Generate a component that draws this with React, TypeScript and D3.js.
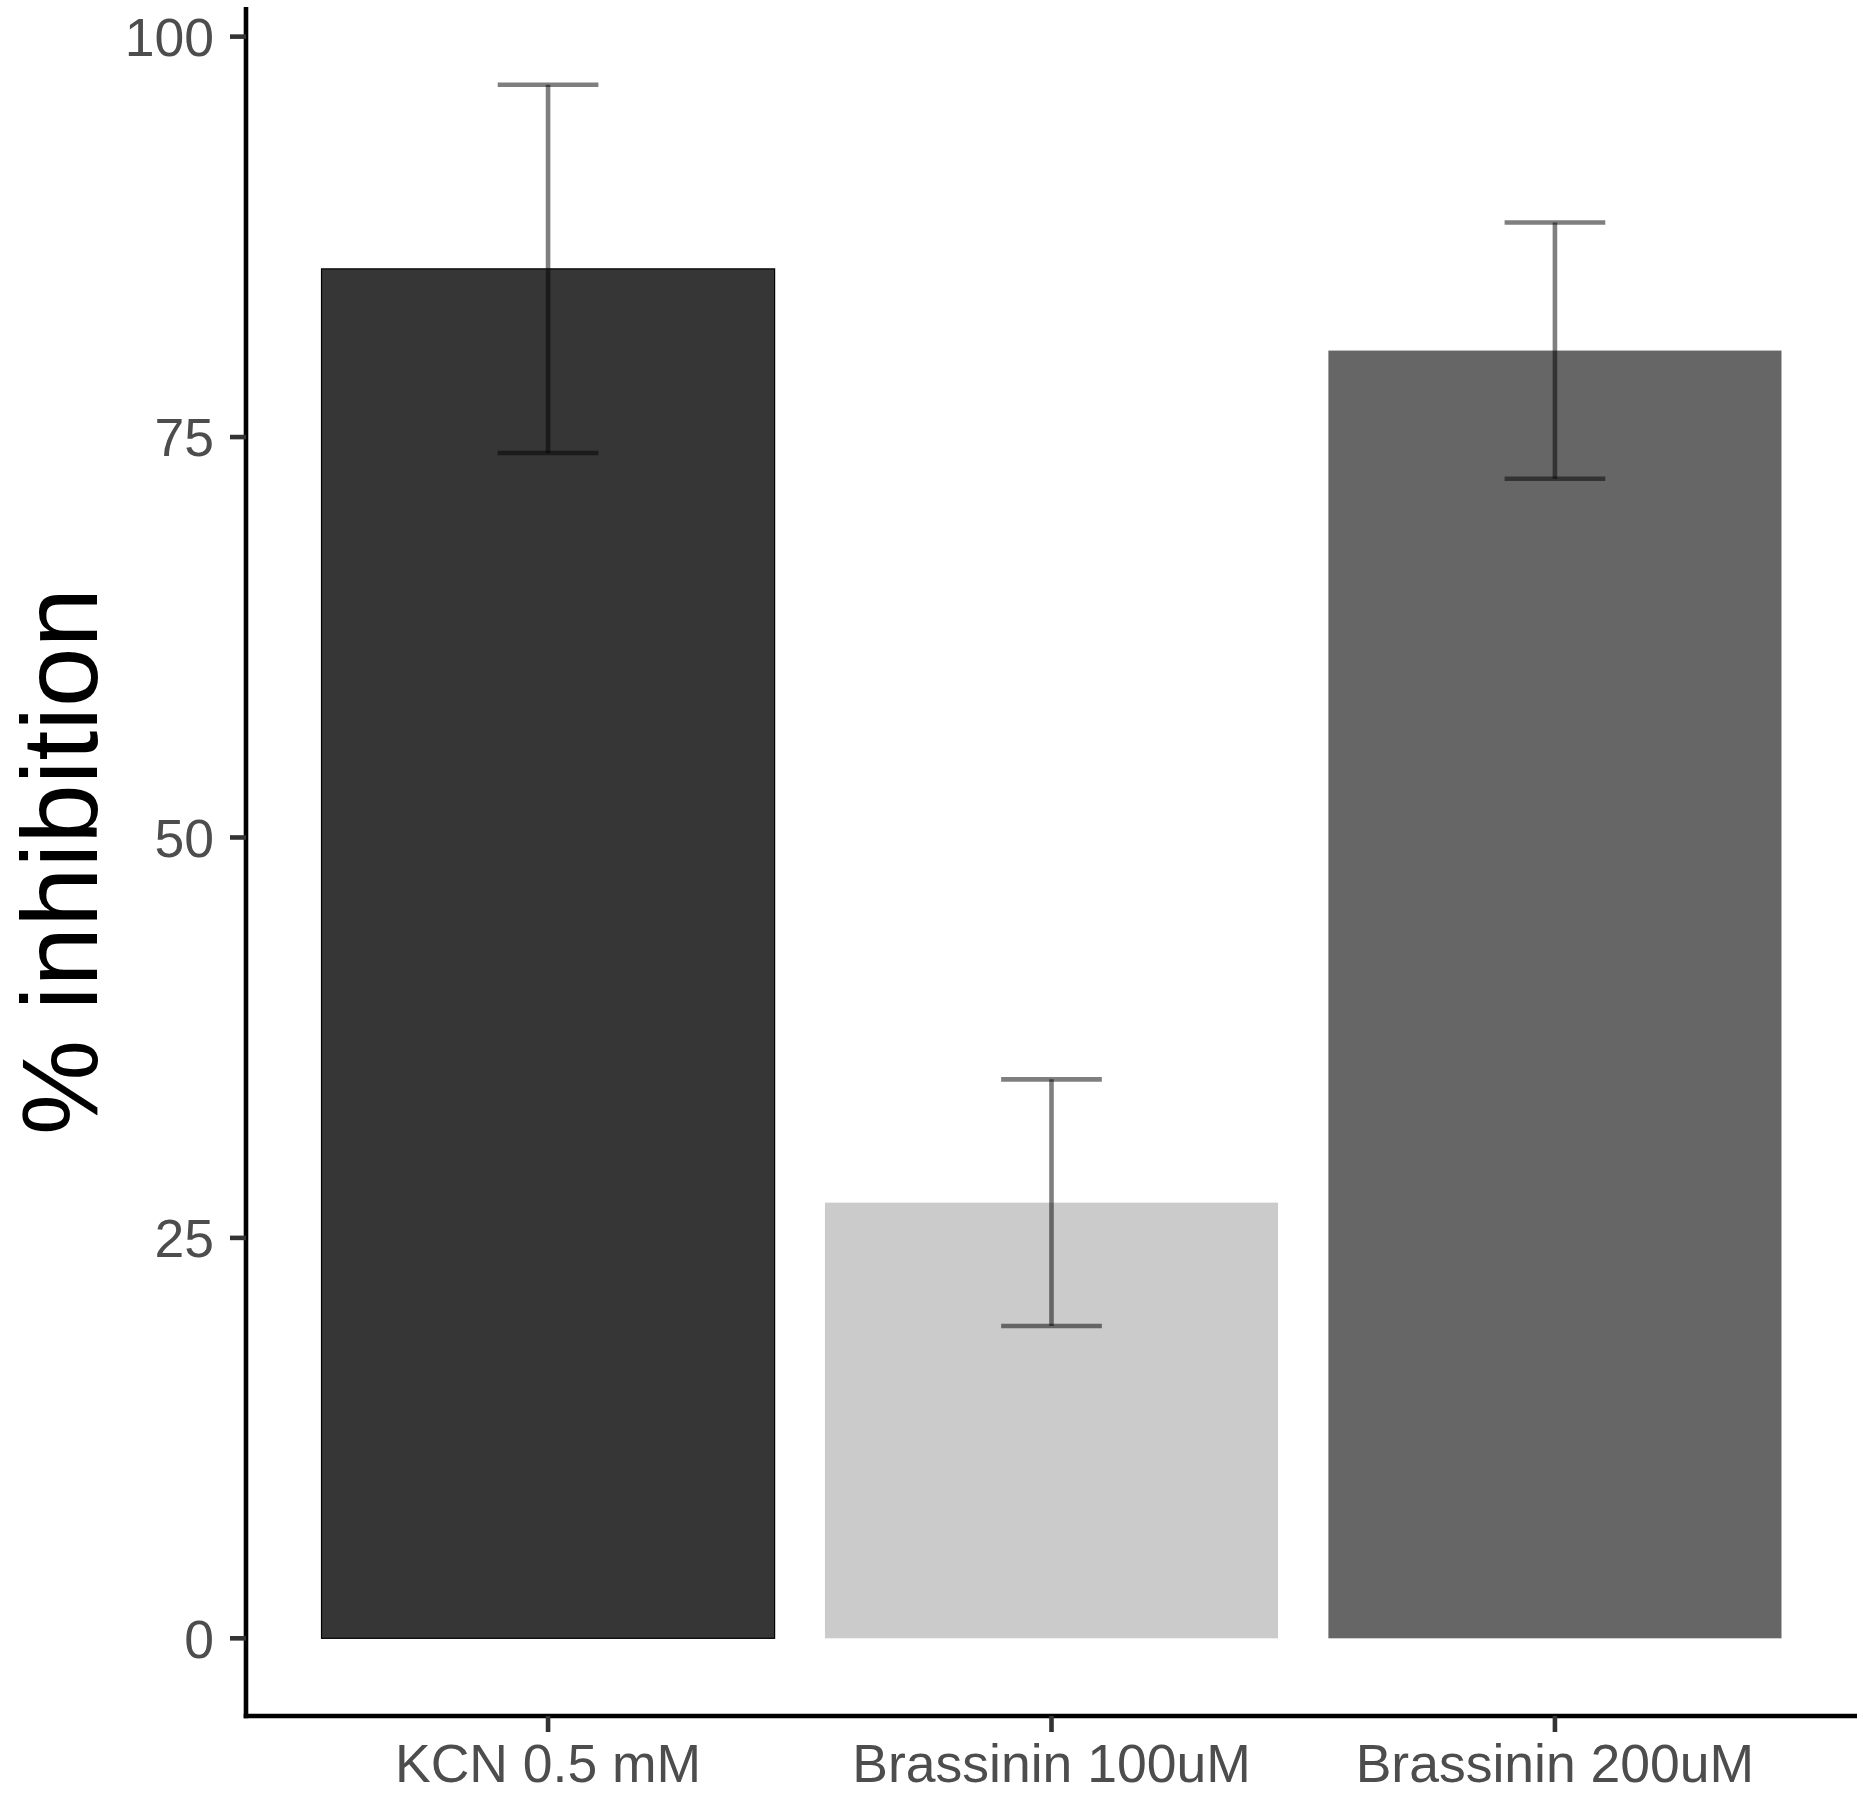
import React from 'react';
import * as d3 from 'd3';

const categories = ['KCN 0.5 mM', 'Brassinin 100uM', 'Brassinin 200uM'];
const means = [85.5, 27.2, 80.4];
const errors = [11.5, 7.7, 8.0];
const fills = ['#363636', '#cbcbcb', '#666666'];
const yTicks = [0, 25, 50, 75, 100];

const W = 1864;
const H = 1794;
const panel = { left: 246, right: 1857, top: 7, bottom: 1716 };

const App: React.FC = () => {
  // ggplot style discrete axis: positions 1..n with 0.6 expansion each side
  const x = d3.scaleLinear()
    .domain([0.4, categories.length + 0.6])
    .range([panel.left, panel.right]);

  // 5% expansion around [0, max(mean + error)]
  const yMax = d3.max(means, (m, i) => m + errors[i]) as number;
  const y = d3.scaleLinear()
    .domain([-0.05 * yMax, yMax * 1.05])
    .range([panel.bottom, panel.top]);

  const barHalf = 0.45;
  const capHalf = 0.1;
  const font = '"Liberation Sans", Arial, Helvetica, sans-serif';

  return (
    <svg
      width={W}
      height={H}
      style={{ position: 'absolute', left: 0, top: 0, background: '#fff' }}
    >
      {/* bars */}
      {categories.map((c, i) => (
        <rect
          key={c}
          x={x(i + 1 - barHalf)}
          y={y(means[i])}
          width={x(i + 1 + barHalf) - x(i + 1 - barHalf)}
          height={y(0) - y(means[i])}
          fill={fills[i]}
          stroke={i === 0 ? '#000' : 'none'}
          strokeWidth={1.2}
        />
      ))}

      {/* error bars */}
      {categories.map((c, i) => {
        const cx = x(i + 1);
        const top = y(means[i] + errors[i]);
        const bot = y(means[i] - errors[i]);
        return (
          <g key={`err-${c}`} stroke="#000" strokeOpacity={0.5} strokeWidth={4.6}>
            <line x1={x(i + 1 - capHalf)} x2={x(i + 1 + capHalf)} y1={top} y2={top} />
            <line x1={x(i + 1 - capHalf)} x2={x(i + 1 + capHalf)} y1={bot} y2={bot} />
            <line x1={cx} x2={cx} y1={top} y2={bot} />
          </g>
        );
      })}

      {/* y axis */}
      <line x1={panel.left} x2={panel.left} y1={panel.top} y2={panel.bottom + 2.3} stroke="#000" strokeWidth={4.6} />
      {yTicks.map(t => (
        <g key={`yt-${t}`}>
          <line x1={panel.left - 16} x2={panel.left} y1={y(t)} y2={y(t)} stroke="#333" strokeWidth={4.6} />
          <text
            x={214}
            y={y(t)}
            dy="0.36em"
            textAnchor="end"
            fontFamily={font}
            fontSize={53.5}
            fill="#4d4d4d"
          >
            {t}
          </text>
        </g>
      ))}

      {/* x axis */}
      <line x1={panel.left - 2.3} x2={panel.right} y1={panel.bottom} y2={panel.bottom} stroke="#000" strokeWidth={4.6} />
      {categories.map((c, i) => (
        <g key={`xt-${c}`}>
          <line x1={x(i + 1)} x2={x(i + 1)} y1={panel.bottom} y2={panel.bottom + 16} stroke="#333" strokeWidth={4.6} />
          <text
            x={x(i + 1)}
            y={1782}
            textAnchor="middle"
            fontFamily={font}
            fontSize={53.5}
            fill="#4d4d4d"
          >
            {c}
          </text>
        </g>
      ))}

      {/* y title */}
      <text
        transform={`translate(97,${(panel.top + panel.bottom) / 2}) rotate(-90)`}
        textAnchor="middle"
        fontFamily={font}
        fontSize={107}
        fill="#000"
      >
        % inhibition
      </text>
    </svg>
  );
};

export default App;
